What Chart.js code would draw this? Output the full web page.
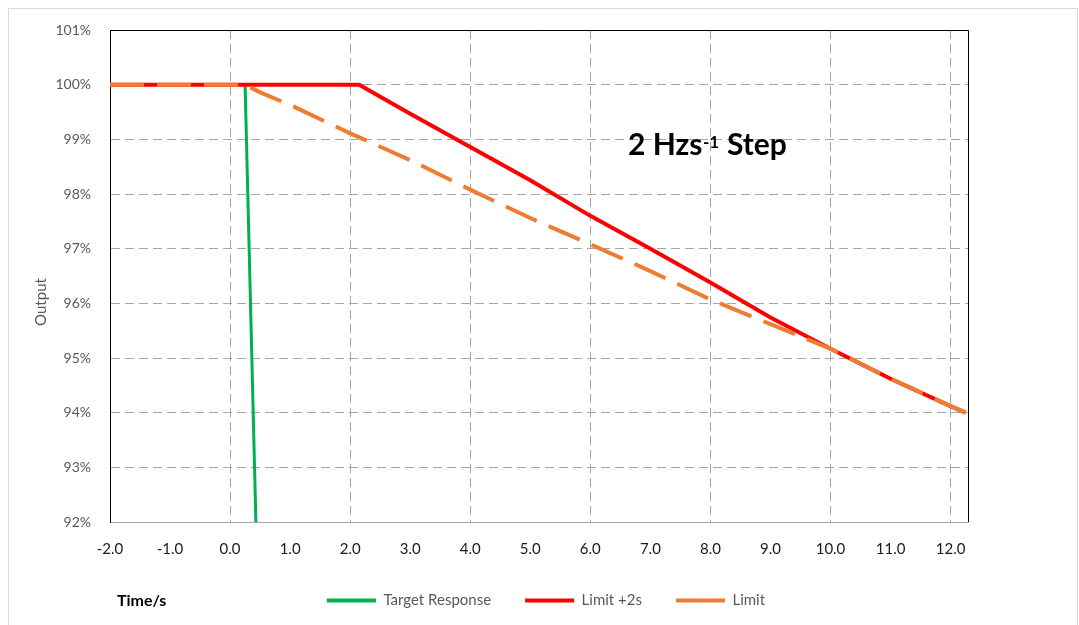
<!DOCTYPE html>
<html>
<head>
<meta charset="utf-8">
<script src="https://cdn.jsdelivr.net/npm/chart.js@4"></script>
<style>
  html, body { margin: 0; padding: 0; background: #fff; }
  #wrap { width: 1079px; height: 625px; position: relative; }
</style>
</head>
<body>
<div id="wrap"><canvas id="chart" width="1079" height="625"></canvas></div>
<script>
// time axis (s) and output (%)
const targetTime = [-2, 0.25, 0.43];
const targetOut = [100, 100, 92];

const limit2Time = [-2, 2.15, 3, 4, 5, 6, 7, 8, 9, 10, 11, 12, 12.25];
const limit2Out = [100, 100, 99.47, 98.86, 98.25, 97.6, 97.0, 96.38, 95.74, 95.17, 94.62, 94.12, 94.0];

const limitTime = [-2, 0.25, 0.5, 1, 2, 3, 4, 5, 6, 7, 8, 9, 9.75, 10, 11, 12, 12.25];
const limitOut = [100, 100, 99.86, 99.63, 99.11, 98.62, 98.08, 97.56, 97.08, 96.59, 96.07, 95.62, 95.28, 95.17, 94.62, 94.12, 94.0];

const xMin = -2, xMax = 12.29;
const yMin = 92, yMax = 101;

const FONT = 'Lato, "Open Sans", sans-serif';
const GRID = '#a6a6a6';

function pts(xs, ys) {
    return xs.map((x, i) => ({ x: x, y: ys[i] }));
}

const extras = {
    id: 'extras',
    afterLayout(chart) {
        // legend sits a little right of centre in the original
        chart.legend.left += 52;
        chart.legend.right += 52;
    },
    beforeDraw(chart) {
        const ctx = chart.ctx;
        ctx.save();
        ctx.strokeStyle = '#d9d9d9';
        ctx.lineWidth = 1;
        ctx.strokeRect(8.5, 8.5, 1069, 700);
        ctx.restore();
    },
    afterDraw(chart) {
        const ctx = chart.ctx;
        const a = chart.chartArea;
        ctx.save();
        // frame top / right
        ctx.strokeStyle = '#000';
        ctx.lineWidth = 1;
        ctx.beginPath();
        ctx.moveTo(a.left, a.top + 0.5);
        ctx.lineTo(a.right + 0.5, a.top + 0.5);
        ctx.lineTo(a.right + 0.5, a.bottom);
        ctx.stroke();

        // y axis title
        ctx.fillStyle = '#595959';
        ctx.font = '15px ' + FONT;
        ctx.textAlign = 'center';
        ctx.textBaseline = 'middle';
        ctx.translate(41, 302);
        ctx.rotate(-Math.PI / 2);
        ctx.fillText('Output', 0, 0);
        ctx.restore();

        ctx.save();
        // x axis title
        ctx.fillStyle = '#000';
        ctx.font = 'bold 16px ' + FONT;
        ctx.textBaseline = 'middle';
        ctx.textAlign = 'left';
        ctx.fillText('Time/s', 117, 601);

        // annotation
        ctx.textBaseline = 'alphabetic';
        ctx.font = 'bold 30px ' + FONT;
        ctx.fillText('2 Hzs', 628, 155);
        ctx.font = 'bold 17px ' + FONT;
        ctx.fillText('-1', 703, 148);
        ctx.font = 'bold 30px ' + FONT;
        ctx.fillText('Step', 727, 155);
        ctx.restore();
    }
};

new Chart(document.getElementById('chart'), {
    type: 'scatter',
    data: {
        datasets: [
            {
                label: 'Target Response',
                data: pts(targetTime, targetOut),
                showLine: true,
                borderColor: '#00b050',
                backgroundColor: '#00b050',
                borderWidth: 3,
                pointRadius: 0,
                order: 3
            },
            {
                label: 'Limit +2s',
                data: pts(limit2Time, limit2Out),
                showLine: true,
                borderColor: '#ff0000',
                backgroundColor: '#ff0000',
                borderWidth: 4,
                pointRadius: 0,
                order: 2
            },
            {
                label: 'Limit',
                data: pts(limitTime, limitOut),
                showLine: true,
                borderColor: '#ed7d31',
                backgroundColor: '#ed7d31',
                borderWidth: 4,
                borderDash: [34, 13],
                pointRadius: 0,
                order: 1
            }
        ]
    },
    options: {
        responsive: false,
        animation: false,
        layout: { padding: { left: 20, top: 30, right: 111, bottom: 7 } },
        plugins: {
            tooltip: { enabled: false },
            legend: {
                position: 'bottom',
                labels: {
                    color: '#595959',
                    font: { family: FONT, size: 15 },
                    boxWidth: 49,
                    boxHeight: 4,
                    padding: 34,
                    sort: (a, b) => a.datasetIndex - b.datasetIndex,
                    generateLabels(chart) {
                        return chart.data.datasets.map((ds, i) => ({
                            text: ds.label,
                            fillStyle: ds.borderColor,
                            strokeStyle: ds.borderColor,
                            lineWidth: 0,
                            lineDash: [],
                            hidden: false,
                            datasetIndex: i,
                            fontColor: '#595959'
                        }));
                    }
                }
            }
        },
        scales: {
            x: {
                type: 'linear',
                min: xMin,
                max: xMax,
                afterFit: (s) => { s.height = 37; },
                ticks: {
                    stepSize: 1,
                    includeBounds: false,
                    padding: 18,
                    color: '#1a1a1a',
                    font: { family: FONT, size: 15 },
                    callback: (v) => Number(v).toFixed(1)
                },
                grid: {
                    drawTicks: false,
                    lineWidth: 1,
                    color: (c) => (c.tick && Math.abs(c.tick.value % 2) < 1e-9) ? GRID : 'rgba(0,0,0,0)'
                },
                border: { color: '#a6a6a6', width: 1, dash: [9, 5] }
            },
            y: {
                min: yMin,
                max: yMax,
                afterFit: (s) => { s.width = 90; },
                ticks: {
                    stepSize: 1,
                    padding: 19,
                    color: '#595959',
                    font: { family: FONT, size: 14 },
                    callback: (v) => v + '%'
                },
                grid: { drawTicks: false, color: GRID, lineWidth: 1 },
                border: { color: '#000', width: 1, dash: [9, 5] }
            }
        }
    },
    plugins: [extras]
});
</script>
</body>
</html>
